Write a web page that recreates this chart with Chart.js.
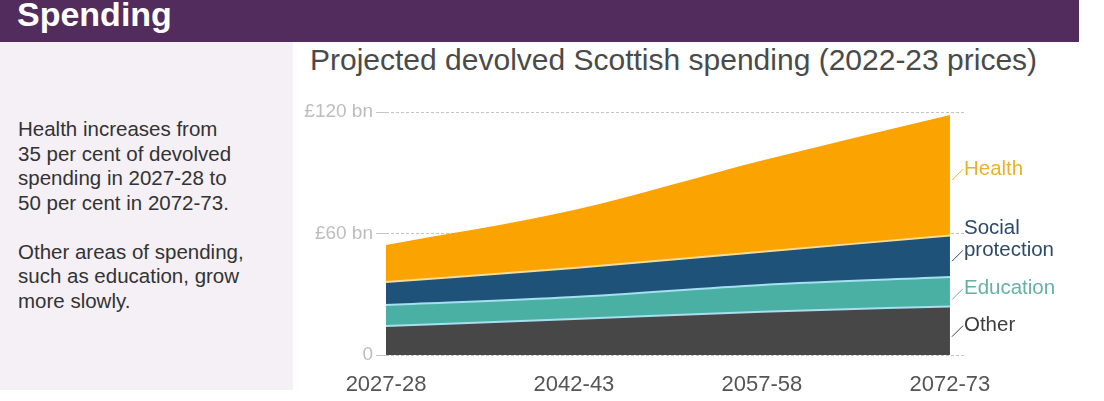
<!DOCTYPE html>
<html>
<head>
<meta charset="utf-8">
<script src="https://cdn.jsdelivr.net/npm/chart.js@4"></script>
<style>
  body { margin: 0; width: 1104px; height: 401px; position: relative; overflow: hidden; background: #fff; font-family: "Liberation Sans", Arial, sans-serif; }
  .header { position: absolute; left: 0; top: 0; width: 1079px; height: 42px; background: #512c5d; }
  .header h1 { margin: 0; position: absolute; left: 17px; top: -5px; font-size: 34px; line-height: 38px; color: #fff; font-weight: bold; }
  .side { position: absolute; left: 0; top: 42px; width: 293px; height: 348px; background: #f4f0f5; }
  .side p { margin: 0 0 24.5px 18px; font-size: 20.5px; line-height: 24.5px; color: #333; }
  .side p:first-child { margin-top: 75px; }
  .title { position: absolute; left: 310px; top: 43px; font-size: 30px; color: #4a4a4a; white-space: nowrap; }
  canvas { position: absolute; left: 0; top: 0; }
</style>
</head>
<body>
<div class="header"><h1>Spending</h1></div>
<div class="side">
  <p>Health increases from<br>35 per cent of devolved<br>spending in 2027-28 to<br>50 per cent in 2072-73.</p>
  <p>Other areas of spending,<br>such as education, grow<br>more slowly.</p>
</div>
<div class="title">Projected devolved Scottish spending (2022-23 prices)</div>
<canvas id="spendingChart" width="1104" height="401"></canvas>
<script>
// valores (£ bn, preços 2022-23)
const years = [2027, 2042, 2057, 2072];
const yearLabels = ['2027-28', '2042-43', '2057-58', '2072-73'];
const other = [14.3, 17.8, 21.4, 24.0];
const education = [10.4, 10.8, 13.2, 14.5];
const socialProtection = [11.3, 14.4, 16.4, 20.5];
const health = [18.3, 28.6, 45.0, 59.5];
const yTicks = [0, 60, 120];

const seriesNames = ['Other', 'Education', 'Social protection', 'Health'];
const seriesData = [other, education, socialProtection, health];
const fillColors = ['#474747', '#4bb0a4', '#1f5278', '#fba301'];
const edgeColors = ['#a5dff0', '#a5dff0', '#f4dc98', '#fba301'];
const labelColors = ['#3d3d3d', '#66b0a8', '#2c4a66', '#ecb12a'];

const FONT = '"Liberation Sans", Arial, sans-serif';

// rótulos à direita, com a linha de ligação
const endLabels = {
    id: 'endLabels',
    afterDatasetsDraw(chart) {
        const ctx = chart.ctx;
        ctx.save();
        ctx.font = '20.5px ' + FONT;
        ctx.textBaseline = 'middle';
        ctx.lineWidth = 1;
        seriesNames.forEach((name, i) => {
            const pts = chart.getDatasetMeta(i).data;
            const last = pts[pts.length - 1];
            const bottom = i === 0 ? chart.scales.y.getPixelForValue(0) : chart.getDatasetMeta(i - 1).data[pts.length - 1].y;
            const mid = (last.y + bottom) / 2;
            const x = last.x;
            const shift = name === 'Education' ? 3 : (name === 'Other' ? 1 : 0);
            ctx.strokeStyle = labelColors[i];
            ctx.beginPath();
            ctx.moveTo(x + 2, mid + 5 + shift);
            ctx.lineTo(x + 13, mid - 6 + shift);
            ctx.stroke();
            ctx.fillStyle = labelColors[i];
            const lines = name === 'Social protection' ? ['Social', 'protection'] : [name];
            lines.forEach((ln, k) => {
                ctx.fillText(ln, x + 14, mid - 6 + shift - (lines.length - 1 - k) * 22);
            });
        });
        ctx.restore();
    }
};

new Chart(document.getElementById('spendingChart'), {
    type: 'line',
    data: {
        datasets: seriesNames.map((name, i) => ({
            label: name,
            data: years.map((yr, j) => ({ x: yr, y: seriesData[i][j] })),
            backgroundColor: fillColors[i],
            borderColor: edgeColors[i],
            borderWidth: i === 3 ? 0 : 2,
            pointRadius: 0,
            cubicInterpolationMode: 'monotone',
            fill: i === 0 ? 'origin' : '-1'
        }))
    },
    options: {
        responsive: false,
        animation: false,
        devicePixelRatio: 1,
        layout: { padding: { left: 0, top: 112, right: 139, bottom: 0 } },
        plugins: { legend: { display: false }, tooltip: { enabled: false } },
        scales: {
            x: {
                type: 'linear',
                min: 2027,
                max: 2073.2,
                afterBuildTicks: (scale) => { scale.ticks = years.map(v => ({ value: v })); },
                afterFit: (scale) => { scale.height = 46; },
                grid: { display: false },
                border: { display: false },
                ticks: {
                    padding: 9,
                    maxRotation: 0,
                    color: '#555',
                    font: { family: FONT, size: 22 },
                    callback: (v) => yearLabels[years.indexOf(v)]
                }
            },
            y: {
                stacked: true,
                min: 0,
                max: 120,
                afterBuildTicks: (scale) => { scale.ticks = yTicks.map(v => ({ value: v })); },
                afterFit: (scale) => { scale.width = 386; },
                grid: { color: '#c4c4c4', lineWidth: 1, tickLength: 10 },
                border: { display: false, dash: [3, 2] },
                ticks: {
                    padding: 3,
                    color: '#bdbdbd',
                    font: { family: FONT, size: 19 },
                    callback: (v) => v === 0 ? '0' : '£' + v + ' bn'
                }
            }
        }
    },
    plugins: [endLabels]
});
</script>
</body>
</html>
